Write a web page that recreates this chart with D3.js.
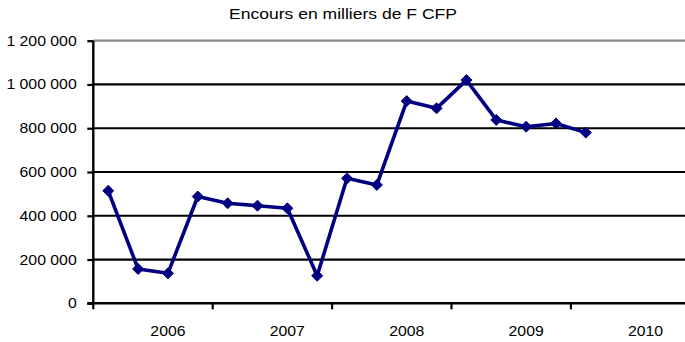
<!DOCTYPE html>
<html>
<head>
<meta charset="utf-8">
<script src="https://cdn.jsdelivr.net/npm/d3@7"></script>
<style>
  html, body { margin: 0; padding: 0; background: #fff; }
  svg { display: block; font-family: "Liberation Sans", Arial, sans-serif; }
</style>
</head>
<body>
<svg id="chart" width="685" height="342"></svg>
<script>
// Quarterly outstanding amounts (thousands of F CFP), 2006 Q1 to 2010 Q1
const years = ["2006", "2007", "2008", "2009", "2010"];
const quarters = ["T1", "T2", "T3", "T4"];
const encours = [
  514000, 157000, 137000, 488000,
  457000, 446000, 434000, 126000,
  571000, 541000, 924000, 891000,
  1020000, 838000, 807000, 822000,
  780000
];
const yTicks = [0, 200000, 400000, 600000, 800000, 1000000, 1200000];
const title = "Encours en milliers de F CFP";

const svg = d3.select("#chart");
const margin = { left: 93.3, top: 40.7, bottom: 303.3 };
const bandW = 29.85;
const stretch = 1.13; // wide rendering of the label glyphs

// Category keys: one per quarter for every year
const periods = years.flatMap(y => quarters.map(q => y + " " + q));

const x = d3.scaleBand()
  .domain(periods)
  .range([margin.left, margin.left + periods.length * bandW])
  .paddingInner(0).paddingOuter(0);

const y = d3.scaleLinear()
  .domain([0, 1200000])
  .range([margin.bottom, margin.top]);

const fr = d3.formatLocale({ decimal: ",", thousands: "\u00a0", grouping: [3], currency: ["", " F"] });
const fmt = fr.format(",d");

// Title
svg.append("text")
  .attr("transform", `translate(343,19) scale(1.17,1)`)
  .attr("text-anchor", "middle")
  .attr("font-size", 15)
  .attr("fill", "#000")
  .text(title);

// Horizontal gridlines
svg.append("g")
  .selectAll("line")
  .data(yTicks.filter(v => v > 0))
  .join("line")
  .attr("x1", margin.left)
  .attr("x2", 685)
  .attr("y1", d => y(d))
  .attr("y2", d => y(d))
  .attr("stroke", d => d === 1200000 ? "#8a8a8a" : "#000")
  .attr("stroke-width", 2.2);

// Y axis
const yAxis = d3.axisLeft(y)
  .tickValues(yTicks)
  .tickSize(6)
  .tickPadding(10)
  .tickFormat(d => fmt(d));

const gy = svg.append("g")
  .attr("transform", `translate(${margin.left},0)`)
  .call(yAxis);
gy.select(".domain").attr("stroke", "#000").attr("stroke-width", 2.4)
  .attr("d", `M0,${margin.top}V${margin.bottom}`);
gy.selectAll(".tick line").attr("stroke", "#000").attr("stroke-width", 2.2);
gy.selectAll(".tick text")
  .attr("x", null)
  .attr("transform", `translate(-16.6,0) scale(${stretch},1)`)
  .attr("font-size", 14)
  .attr("font-family", "'Liberation Sans', Arial, sans-serif")
  .attr("fill", "#000");

// X axis: ticks at year boundaries, labels on the third quarter of each year
const gx = svg.append("g");
gx.append("line")
  .attr("x1", margin.left - 6)
  .attr("x2", 685)
  .attr("y1", y(0))
  .attr("y2", y(0))
  .attr("stroke", "#000")
  .attr("stroke-width", 2.4);

gx.selectAll("line.tick")
  .data(years)
  .join("line")
  .attr("class", "tick")
  .attr("x1", d => x(d + " T1"))
  .attr("x2", d => x(d + " T1"))
  .attr("y1", y(0))
  .attr("y2", y(0) + 6)
  .attr("stroke", "#000")
  .attr("stroke-width", 2.2);

gx.selectAll("text")
  .data(years)
  .join("text")
  .attr("transform", d => `translate(${x(d + " T3") + x.bandwidth() / 2},336) scale(${stretch},1)`)
  .attr("text-anchor", "middle")
  .attr("font-size", 14)
  .attr("fill", "#000")
  .text(d => d);

// Series line
const pts = encours.map((v, i) => ({ p: periods[i], v }));
const cx = d => x(d.p) + x.bandwidth() / 2;

svg.append("path")
  .datum(pts)
  .attr("fill", "none")
  .attr("stroke", "#000080")
  .attr("stroke-width", 3.6)
  .attr("stroke-linejoin", "round")
  .attr("d", d3.line().x(cx).y(d => y(d.v)));

// Diamond markers
svg.append("g")
  .selectAll("path")
  .data(pts)
  .join("path")
  .attr("transform", d => `translate(${cx(d)},${y(d.v)})`)
  .attr("d", "M0,-5.5L5.5,0L0,5.5L-5.5,0Z")
  .attr("fill", "#000080")
  .attr("stroke", "#000080")
  .attr("stroke-width", 1);
</script>
</body>
</html>
